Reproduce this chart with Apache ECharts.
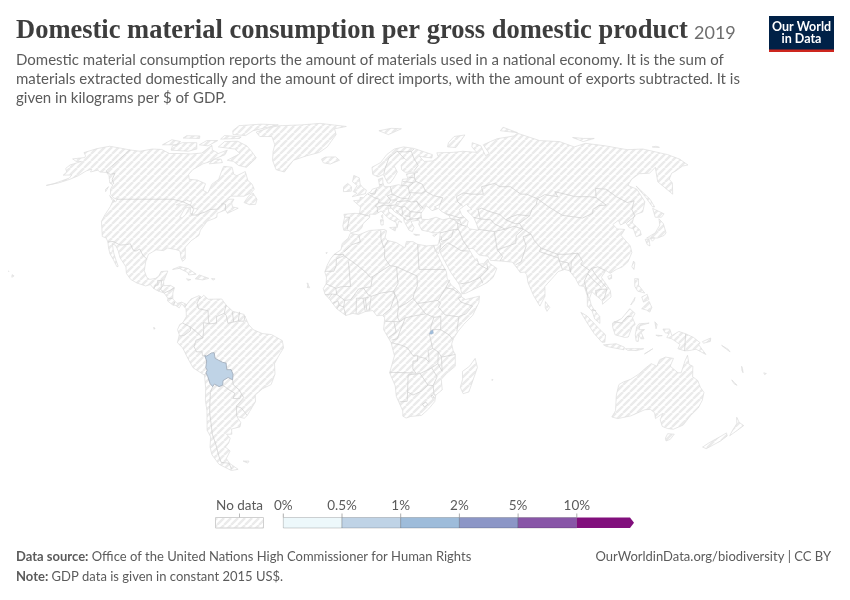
<!DOCTYPE html>
<html><head><meta charset="utf-8">
<script src="https://cdn.jsdelivr.net/npm/echarts@6/dist/echarts.min.js"></script>
<style>html,body{margin:0;padding:0;background:#fff}#c{width:850px;height:600px}</style>
</head><body><div id="c"></div>
<script>
// ---------- values ----------
const titleText = 'Domestic material consumption per gross domestic product';
const yearText = '2019';
const subtitleLines = [
 'Domestic material consumption reports the amount of materials used in a national economy. It is the sum of',
 'materials extracted domestically and the amount of direct imports, with the amount of exports subtracted. It is',
 'given in kilograms per $ of GDP.'];
const sourceText = 'Office of the United Nations High Commissioner for Human Rights';
const noteText = 'GDP data is given in constant 2015 US$.';
const urlText = 'OurWorldinData.org/biodiversity | CC BY';
const binEdges = [0,0.5,1,2,5,10];
const binLabels = ['0%','0.5%','1%','2%','5%','10%'];
const binColors = ['#edf8fb','#bfd3e6','#9ebcda','#8c96c6','#8856a7','#810f7c'];
const countryNames = ['Bolivia','Rwanda'];
const countryValues = [0.8,1.5];
const countryStrokeWidths = [0.8,0.3];

// ---------- base map: outlines as lon,lat ----------
const northAmerica=[-141,69.6,-148,70.4,-156.5,71.3,-162,70.2,-166.5,68.4,-163,67,-162,66.2,-168,65.6,-164,64.5,-161,64.5,-165,63,-165,61.5,-162,60,-162,58.7,-157.5,58.8,-157,57.5,-162,55.2,-165,54.5,-160,55.5,-156,57,-153.5,58.5,-152,60.5,-150,61.2,-149,60,-146,60.8,-144,60,-140,59.8,-137,58.5,-135,57,-133,55.5,-130.5,54.7,-130,53,-128,51,-125,49.5,-123,49,-122.8,48,-124.5,48.3,-124,46,-124.3,43,-124.2,40.4,-122.5,37.8,-120.6,34.6,-118.5,34,-117.1,32.5,-116,30.5,-114.5,28,-112.5,26,-110,23,-109.5,23.2,-111,25.5,-113,28.5,-114.7,31.7,-113,31.2,-111,29,-109.5,26.5,-106,23,-105.3,20.5,-103,18.2,-100,16.8,-96,15.7,-94,16.2,-92,14.5,-90,13.7,-87.5,13,-85.7,11,-85.8,10,-83.5,8.5,-82,8.2,-80.5,7.3,-79.5,8.9,-78,7.5,-77.3,8.6,-79.5,9.5,-81.5,9,-83.5,10.7,-83.7,13,-83.2,15,-85,15.9,-88,15.8,-88.3,17.5,-87.6,19.5,-87,21.4,-90,21.2,-90.7,19.5,-92,18.6,-94.5,18.2,-96,19,-97.5,21.5,-97.5,25,-97,27.8,-94,29.5,-90.5,29.2,-89,30.2,-85,29.6,-83,29,-82,26.5,-81,25.1,-80,26,-81,30.5,-79,33,-76,35,-76,37,-74,40.5,-71,41.5,-70,42,-70.5,43.5,-67,44.8,-66,44,-65.5,43.5,-61,45.5,-64,46,-65,47.5,-64.5,49,-67,49,-70,47,-66.5,50.2,-60,50.2,-57,51.5,-56,53,-58,55,-61,56.5,-64.5,60.2,-68,58.5,-70,59,-73,62,-78,62.4,-77.5,60,-76.8,57,-79,55,-79,51.5,-82,52.5,-82.5,55.2,-88,56.7,-92.5,57,-94.5,59,-94,61,-90.5,63.5,-87,64.5,-85,66,-81.5,67.5,-82,69.5,-86,68,-88,68.7,-91,69.5,-94,71.8,-96,68.2,-102,67.8,-108,68,-115,68,-122,69.8,-128,70,-134,69];
const lakeSuperior=[-92,46.8,-88,48.7,-85,47.8,-85,46.7,-88,46.8];
const lakeMichigan=[-87.8,42,-87,45.5,-85,46,-85.5,43,-86.5,41.7];
const lakeHuron=[-84.5,46,-80.5,45,-81.7,43.2,-83.5,43.5];
const southAmerica=[-77.3,8.6,-75.5,10.7,-72,12,-71.5,10.8,-70,12.1,-68,10.6,-62,10.7,-60,8.4,-57,6,-52,4.8,-50,1,-48,-1,-44,-2.5,-40,-2.9,-35.3,-5.2,-34.8,-8,-37,-11,-39,-14,-39,-18,-41,-22,-45,-23.6,-48.5,-26,-48.7,-28.5,-52,-32.3,-53.4,-33.8,-55,-34.9,-58.3,-34.2,-57,-36.5,-57.8,-38.2,-62,-39,-62.5,-41,-65,-41,-63.8,-42.5,-65.3,-44.5,-67.5,-46,-65.8,-47.5,-69,-50.5,-68.4,-52.4,-65.2,-54.8,-69,-55.3,-74,-52.8,-75.5,-49,-75,-46,-73,-42,-73.7,-39.5,-71.5,-32,-71.3,-28,-70.4,-23.5,-70.3,-18.4,-75,-15.6,-77,-12,-79,-8,-81.2,-6,-80.3,-3,-81,-1,-80,1,-78.8,1.5,-77.2,4,-77.5,7,-78,7.5];
const eurasia=[-9,37,-9.5,38.8,-8.8,42,-9.2,43.1,-4,43.5,-1.7,43.4,-1.2,46,-4.7,48.4,-1.5,48.7,-1.5,49.7,0.2,49.6,2,51,4,52,4.8,53,7,53.5,8.7,54,8.2,57,10.5,57.6,10.5,55.5,11,54,14,54,18.5,54.8,20,54.5,21,57,24,57.2,23.5,59.2,28,59.6,30,60,23,59.9,21.3,61,21.5,63,25,65,24,65.8,22,65.5,17.5,62.5,18.8,60,16.5,57.5,14.3,55.5,13,55.4,11,59,8,58,5.3,59,5,62,10,64,14,67.5,19,70,25,71,31,70.3,41,67.5,40,66,35,66.5,33,66.8,35,64.5,40,64.7,44,66.5,44,68.3,54,68.5,60,69,68,68.5,67,71,69,73,73,71.5,72,67,75,68,75,72,81,73.5,87,74.9,100,76.3,104.5,77.7,113,74,125,73.5,130,71,140,72.7,150,71.5,160,69.7,170,70,180,67.5,183,65.5,183,63,179,62.5,172,60.5,168,59.5,163,57,162.5,55.5,157,51,155.5,56,163,62,156,59.5,150,59.3,143,57,138,54.5,141,53,140,48,135.5,44,132,43.2,130,42.3,127.5,39.8,129.5,37,129,35.2,126.3,34.5,126.7,37.5,125,38,124.5,40,121.5,39,121.5,40.8,118,39.2,119,37.5,122.5,37.3,119.5,35,122,31,121.8,28.5,119,25,116,23,113,22,110,20.5,108.3,21.6,105.8,19,109,14,109,11.5,105,8.7,105,10,102.5,12,100.8,13.5,99.5,11,100,8.5,101,6.8,103.5,4,103.5,1.4,101.3,3,100.3,6,98.3,8,98.6,12,97.7,15.5,95.5,15.8,94.3,18.5,92,21.5,90,22,87,21.2,85,19.5,80.3,15.5,80,11.8,77.5,8,75,12,73,17,72.8,20,72,21,70,20.8,69,22.3,67,24.8,62,25.2,57.2,25.5,56.5,27,52.5,27.5,50.2,30,48,30,50,26.5,51.5,25,51.2,26.2,52,24,54,24.2,56.2,26,56.5,24.5,59.8,22.4,57.8,19,55,17,52,15.7,45,12.8,43.5,12.7,42.7,16,39,21,35.2,28,34.9,29.5,34.2,28,32.6,29.9,32.3,31.2,34.2,31.3,35,32.8,36,36,32.5,36,30.5,36.5,27.5,37,26.3,39.3,27,40.5,26,40.8,23.5,40.5,22.8,40.3,24,38,23,36.5,21.5,37,19.5,40.5,19.5,42,15.5,44,13.7,45.6,12.3,45.3,12.5,44,16,41.9,18.5,40,16.9,40.4,16,38,15.7,40,12.5,41.4,10.5,43,8.8,44.4,6,43.1,3.2,43.2,3.2,41.9,0,39.5,-0.5,38,-2,36.8,-5.5,36,-6.5,36.9];
const blackSea=[28,41.2,31.2,41.1,35,42,38,41,41.6,41.6,41.5,42.5,38,44.3,37,45.3,38,47,35,46,36.5,45.3,33.5,44.5,32.5,45.5,31,46.5,29.6,45,28,43.5];
const caspianSea=[47,45,51,47,53,45,50.5,44.5,53,42,53.8,39,54,37,50,37.5,49,38.5,50,40.5,47.5,43];
const africa=[-5.9,35.8,-2,35.2,3,36.9,10,37.3,11,36.8,10.2,34.3,11,33.1,15.2,32.3,19,30.3,20,32.7,23,32.6,25,31.6,29,31,32.3,31.2,32.6,29.9,33.6,27.8,35.5,24,37.2,21,37.3,18.7,39,16,41,14.6,43.2,12.5,43.3,11.5,45,10.5,51.2,11.8,50.8,9.3,48,4.5,44,1,41.5,-1.7,39.5,-4.5,38.8,-6.5,39.5,-9,40.5,-10.5,40.7,-15,37,-17.8,34.8,-20,35.5,-24,32.8,-26,32.5,-28.5,30,-31.3,27,-33.8,22,-34.2,20,-34.8,18.4,-34.1,18.2,-32,15,-26.5,14.4,-22.5,11.8,-17.5,13.8,-11,12.3,-6,9,-1,9.5,3.5,8.5,4.5,6,4.3,4.3,6.3,1,5.9,-2,4.8,-4.5,5.2,-7.5,4.4,-11.4,6.9,-13.3,9,-15,11,-16.7,12.4,-17.5,14.7,-16.3,16.5,-16.2,19,-17,21,-16,23.7,-14.5,26.2,-13,27.8,-10,29.5,-9.5,32,-6.8,34];
const australia=[114.2,-22,114,-26,115.7,-32,115,-34.4,118,-35,123.5,-34,129,-31.6,131.5,-31.5,134,-32.8,135.5,-35,137.8,-33,138,-35.5,140.5,-38,143.5,-38.8,146.4,-39.1,150,-37.5,151,-34,153,-31,153.5,-28,153,-25,150.8,-23,149,-20.5,146.3,-19,145.5,-15,143.7,-14.3,142.5,-10.8,141.7,-13,140.9,-17.5,139.5,-17.5,135.5,-15,136.5,-12,133,-11.5,130.5,-12.5,129.6,-15,127,-14,125,-15.5,122.2,-18,119,-20,116,-21];
const islands=[
[-59,47.7,-56,46.9,-53,47,-53,49,-56,51.5,-57.5,50.5],[-62,66,-65,62,-70,62.8,-74,64.5,-78,65,-73,68,-78,70,-89,71,-88,73.5,-80,73.7,-72,71.5,-67,69],
[-105,69,-116,69.5,-118,71.5,-114,73,-105,73,-101,70],[-116,72,-125,72,-123,74.4,-116,73.5],[-62,82.5,-75,83,-90,82,-90,79,-87,77,-78,76.5,-76,79,-68,81],
[-80,75,-92,74.7,-92,76.5,-80,75.8],[-106,75,-117,75.2,-117,76.4,-108,76.3],[-96,71.5,-102,72,-100,74,-93,74],[-80,64,-87,63.5,-86,65.5,-82,65.5],[-128,50.5,-123.5,48.4,-125,48.6],[-132.5,53,-132,54,-131.5,52],
[-73,78.3,-66,81,-60,82,-45,82.5,-32,83.5,-22,82.5,-12,81.5,-20,80,-18,77,-20,74,-22,71,-26,68.5,-33,67,-40,65,-43,60,-48,61,-52,65,-54,69,-55,72,-60,76,-68,76],
[-24,65.5,-22,66.4,-16,66.5,-13.5,65,-18.5,63.4,-22.5,63.9],[-85,22,-82,23.1,-78,22.3,-74.2,20.2,-77.5,19.9,-78,20.8,-82,22.4],[-74.4,18.4,-72.8,19.9,-68.4,18.6,-71,18],[-78.3,18.4,-76.3,18.1,-77.5,17.8],[-67.2,18.5,-65.6,18.4,-66.5,17.9],
[-61,-51.5,-58,-51.5,-59,-52.3],[49.3,-12,50.5,-15.5,47.5,-24.8,45,-25.5,43.5,-23,44.3,-20,44,-17,47,-15],
[-5.5,50,1.3,51.2,1.7,52.7,0,53.5,-1.5,55,-2,57.6,-5,58.6,-5.5,56,-3,54.5,-5,52,-3,51.4],[-10,52,-6,52.2,-6,54,-8,55.3,-10,54],[11,79,20,80.3,27,80,17,77],[52,71,57,70.7,68,76.8,60,76,54,73],[95,79,105,78,100,81],
[12.5,38,15.6,38.2,15,36.7],[8.3,41,9.7,41,9.5,39,8.5,39],[8.7,42.5,9.5,43,9.4,41.5],[23.5,35.5,26.3,35.2,24.5,35],[32.3,35,34.5,35.6,33,34.6],
[137,75.5,143,75,150,75,140,73.5],[178,71,181,71.3,182,70.8,178.5,70.8],[142,54.3,143.5,49,143,46,142,46,142,50],[140,42,141.5,45.4,145.3,43.3,143,42],[130.9,34,136,36,140,39,141.3,41.4,142,39.5,141,36,139.5,35,136,34,132.5,34],[130,33.5,131.8,33.5,131,31,130,31.5],[132.5,33.8,134.5,34.2,134,33.4,133,32.8],
[121.5,25.2,120.2,23,120.9,22,121.9,24.5],[108.7,19.3,110.5,20,110.3,18.6,109,18.2],[80,9.7,81.8,7.5,80.5,6,79.8,7.5],
[120.5,18.5,122.2,18.4,121.7,16,124,13,121,13.7,120,15.5],[122,7,125.5,9.8,126.5,7.5,125.5,5.7,124,6.5],[122.5,11.5,125,12.5,125.5,10.5,123,9.5],[117.3,8.4,119.5,11.3,119,10],
[95.3,5.6,98,4.2,103.5,-1,106,-3,105.8,-5.8,104.5,-5.8,101,-2.5,98,1.5],[105.3,-6.8,108.5,-6.6,110.8,-6.4,114.5,-7.7,114.4,-8.7,110,-8,106.5,-7.4],[109,1.5,111.3,2.5,113,3.2,116.8,7,119,5.2,117.8,3.5,118.9,1,117.5,0,116,-3.8,114.5,-4,110.2,-3,109,0],
[119.5,0,120.5,1.2,125,1.5,121,0.5,120.5,-1,123,-1,121.5,-2,122.8,-4.5,121.5,-4.5,120.5,-3,120.4,-5.5,119.5,-5.4,119,-3],[115,-8.3,119,-8.3,123,-8.3,120,-9,116,-8.9],[123.5,-10.3,127,-8.3,125,-9.5],[127.5,2,128.5,1,128,-0.7],[128,-3.1,130.8,-3.3,129,-3.5],
[131,-0.8,134,-0.8,135,-3.3,138,-1.7,141,-2.6,144.5,-4,147.5,-6,147,-6.8,150.5,-10.5,146,-8.5,143,-9,141,-9.1,138,-8.3,138.8,-6.7,135,-4.5,132.8,-4,133.8,-2.5,132,-2.2],[148.5,-5.6,152,-4.2,152,-5.5,149,-6.2],[157,-7,160,-8.5,161,-9.5,158.5,-8],[167,-15,167.5,-16.5,168.3,-17.5,167.6,-15.8],[164,-20.2,167,-22.3,165.5,-21.7],[177.5,-17.5,178.7,-17.8,178,-18.2],
[145,-40.8,148.3,-41,148,-43,146.5,-43.6,145.3,-42.5],[172.8,-34.5,175.5,-36.5,178.5,-37.7,177,-39.5,175.3,-41.6,174.7,-39.5,174.7,-37],[172.7,-40.5,174.2,-41.7,172.8,-43.7,171,-45,169,-46.6,166.5,-46,168,-44.3,171,-42],
[-156,20,-155,19.5,-155.9,19],[-158.2,21.6,-157.7,21.3,-158.1,21.3],[-16.8,28.4,-16.2,28.5,-16.5,28],[-24.8,16.8,-24.2,16.6,-24.6,15.1,-23.5,15],[57.3,-20,57.8,-20.1,57.5,-20.5],[-91.5,-0.2,-90.8,-0.4,-91.2,-0.9]];
const bolivia=[-69.5,-10.95,-68.6,-11.1,-66.5,-9.9,-65.3,-9.8,-65,-12,-61.8,-13.5,-60.3,-13.8,-60.2,-16.3,-58.3,-16.3,-57.6,-18,-58,-20.2,-59.9,-19.3,-62.3,-20.5,-62.6,-22.2,-64.3,-22.8,-66.3,-21.8,-67.2,-22.8,-68.2,-21.6,-68.9,-19,-69.5,-17.5,-68.9,-16.5,-69.4,-15.5,-68.8,-13];
const rwanda=[29,-2.7,29.6,-1.4,30.5,-1.1,30.8,-2.4,29.9,-2.8];
const borders=[
[-123,49,-95,49,-94.8,49.3,-89.5,48,-84.5,46.5,-82.5,45,-82.5,42.8,-79,42.9,-79,43.3,-76.5,44,-74.7,45,-71,45.1,-70,46.5,-69,47.3,-67.8,47,-67,44.8],[-141,69.6,-141,60.3,-137,59,-135,59.5,-133.5,57,-130.3,55],
[-117.1,32.5,-114.7,32.7,-111,31.3,-108.2,31.5,-106.5,31.8,-104.5,29.5,-103,29,-101.5,29.8,-99.5,27.5,-97.2,25.9],[-92.2,14.6,-91.7,16,-90.5,16,-91,17.8,-89.2,17.8,-88.3,18],[-89.2,17.8,-89.2,15.9],[-88.5,15.8,-89.3,14.4,-90,13.8],[-89.3,14.4,-87.8,13.4],[-87.5,13,-85,14,-83.2,15],[-85.7,11,-83.7,10.9],[-83,8.3,-82.6,9.5],
[-71.3,11.8,-72.8,9.1,-72,7,-67.8,6.2,-67.5,2,-66.9,1.2],[-66.9,1.2,-69.8,1.7,-69.5,-0.5,-70,-4.2],[-70,-4.2,-72,-2.5,-75.2,-0.1],[-75.2,-0.1,-78.8,1.5],[-75.2,-0.1,-75.5,-1.5,-78.3,-3.3,-80.3,-3.4],[-70,-4.2,-73,-5,-74,-7.5,-73,-9.5,-70.6,-9.5,-70.5,-11,-69.5,-10.95],[-69.5,-17.5,-70.4,-18.4],
[-66.9,1.2,-64,1.5,-64,4,-60.7,5.2],[-60.7,5.2,-60,8.4],[-60.7,5.2,-59.8,4.4,-59,1.4,-56.5,1.9],[-56.5,1.9,-57.2,5.9],[-56.5,1.9,-54.5,2.3],[-54.5,2.3,-54,5.8],[-54.5,2.3,-52,2.2,-51.6,4.2],
[-67.2,-22.8,-68.5,-25,-69.7,-30,-70.5,-33,-71,-37,-71.8,-41,-71.7,-45,-72.3,-49.5,-72.5,-52,-68.4,-52.4],[-68.6,-52.7,-68.6,-54.9],[-62.6,-22.2,-60,-24,-57.6,-25.3,-58.6,-27.3,-55.7,-27.4,-54.6,-25.6],[-58,-20.2,-57.9,-22.1,-55.5,-24,-54.6,-25.6],[-54.6,-25.6,-53.8,-27,-57.6,-30.2],[-57.6,-30.2,-58.3,-34],[-57.6,-30.2,-55.5,-31,-53.4,-33.8],
[-1.9,35,-1.2,32.5,-5,31.5,-8.7,28.7],[-13,27.7,-8.7,27.7],[-8.7,27.7,-8.7,27.2,-12,26,-12,23.4,-13,21.3,-17,21.3],[-8.7,27.3,-4.8,25],[-6.5,24.9,-5.5,15.5,-9.5,15.4,-12,14.8],[-12,14.8,-16.3,16.5],[-4.8,25,1.2,21,3.2,19,4.2,19.2],[4.2,19.2,3.5,15.4,0.2,14.9],[4.2,19.2,12,23.5],[12,23.5,9.7,26.5,9.9,30],[8.3,36.9,8.3,33.5,9.5,30.2],[9.5,30.2,11.5,33.1],[12,23.5,15,23],[15,23,24,19.5],[25,31.6,25,22],[25,22,37,22],[24,19.5,24,15.7,22.5,12.8,22,11],[15,23,15.5,16.5,13.5,13.7],[13.5,13.7,8,13,3.6,11.7],[3.6,11.7,2.4,12.2,0.2,14.9],[0.2,14.9,-2,14.5,-5.4,10.4],[-2.9,11,0,11],[0,11,2.4,11.3],[-5.4,10.4,-8,10.2,-11.5,12.4,-12,14.8],[-11.5,12.4,-13.7,12.6],[-13.7,12.6,-16.7,12.4],[-13.7,12.6,-15,11],[-13.3,9,-11,10,-10.5,8.4],[-11.4,6.9,-10.5,8.4,-8.5,7.6,-7.5,4.4],[-8.5,7.6,-8,10.2],[-2.9,11,-3,5],[0,11,1,5.9],[1,11,1.7,6.2],[3.6,11.7,2.7,6.4],[13.5,13.7,14,12,12,7,8.7,4.6],[13.5,13.7,15,10.5,15.5,7.5],[15.5,7.5,15,4],[9.8,2.2,16,2],[15.5,7.5,19,9,22,11],[22,11,27.4,5],[15,4,16,2,18.5,3.5,22,4.2,27.4,5],[24,9,28,9.5,33,10.2],[33,10,34,9,33,7.6,35.9,4.6],[31,3.7,34,4],[35.9,4.6,41.9,3.9],[33,10.2,36,14.3,36.5,15],[36.5,15,38.5,18],[36.5,15,39.5,14.5,42.5,12.7],[41.8,11,43.2,11.5],[41.8,11,43,9.5,48,8,45,5,42,4],[41.9,3.9,41,-1.7],[34,4,34,1,33.9,0,33.9,-1],[33.9,-1,37.6,-3,39.2,-4.7],[30.5,-1,33.9,-1],[31,3.7,29.6,0,29.6,-1.4],[27.4,5,31,3.7],[11.1,-4,14.5,-2,13.5,2],[18.5,3.5,16,-2,15,-4.5,12.5,-5],[12.3,-6,17,-7,19.5,-8,22,-11,24,-11],[24,-11,25,-11.5,27.5,-12,29,-13.4,29,-12,28.5,-9,30.5,-8.2,29.5,-4.5,29,-2.7],[30.5,-8.2,33,-9.5],[33,-9.5,34.5,-11.5,35,-17,33,-14,33,-9.5],[34.5,-11.5,40.5,-10.5],[33,-14,30.3,-15.6,32.9,-19,31.3,-22.4,32,-26,32.8,-26],[29,-22.2,31.3,-22.4],[30.3,-15.6,25.3,-17.8],[24,-11,24,-13,22,-13,22,-16,23.4,-17.6],[11.8,-17.3,23.4,-17.6],[25.3,-17.8,20,-18.3,20,-22,20,-24.8,22.5,-26,26,-24.6,29,-22.2],[25.3,-17.8,29,-22.2],[20,-24.8,20,-28.4,16.5,-28.6],[27,-29.5,28.5,-28.7,29.4,-29.6,28,-30.6,27,-29.5],[31,-26,32,-26.8,31.5,-27.3,30.8,-26.5,31,-26],
[-8.8,42,-6.5,42,-7,39.5,-7.4,37.2],[-1.7,43.4,3.2,42.4],[2.5,51,6,49.5],[6,49.5,8.2,49,7.6,47.6],[7.6,47.6,6,46.3,7,45.9,7,44,7.5,43.8],[3.4,51.4,6,51],[6,51,7,53.3],[8.7,54.9,9.8,54.8],[14.2,54,14.8,51],[14.8,51,12.2,50.3,13.8,48.7],[13.8,48.7,13,47.5,9.6,47.5],[9.6,47.5,7.6,47.6],[7,45.9,10.4,46.7],[10.4,46.7,13.7,46.5],[13.8,48.7,17,48.7],[14.8,51,18.8,49.5,22.6,49.1],[17,48.1,22.2,48.4],[17,48.1,16,46.8],[13.7,46.5,16,46.8],[13.7,46.5,13.6,45.5],[16.5,46.5,19,45.9],[19,45.9,20.5,46.2,22.8,44.3],[22.8,44.2,28.5,43.7],[22.8,44.2,22.5,42.3],[22.5,41.2,26.3,41.5],[26.3,41.5,28,41.9],[26.3,41.5,26,40.8],[19.4,41.8,20.8,40.8,22.5,41.2,22.5,42.3,20,42.6],[19,45.9,19,44.9,19.3,43,18.5,42.5,16,44.8],[22.2,48.4,24,47.9,26.6,48.3,29.5,45.4],[26.6,48.3,28.2,45.5],[22.6,49.1,24,50.8,23.6,52,23.5,53.9],[23.5,53.9,22.8,54.4,20,54.4],[24,51.6,30,51.4,32,52.2],[32,52.2,31,55,28,56.1],[23.5,53.9,26.5,55.6,28,56.1],[21,56.1,26.5,55.6],[24.3,57.9,27.5,57.6],[28,59.5,27.5,57.6,28,56.1],[32,52.2,35.5,50.4,40,49.6,38.2,47.1],[28,60.5,31,62.8,29.5,66,29,69],[29,69,25,68.7,20.5,69],[20.5,69,24,65.8],[20.5,69,15,66,12,61,11.3,59],[29,69,31,70],
[49,46.3,47,48,47,50,51,51.5,55,51,61,51,61.5,54,69,55.3,71,54,76.5,54,80,51,83,51,87.3,49.2],[87.3,49.2,92,50.8,98,50,98,52,102.5,51,107,50,114,50,117,49.6],[117,49.6,120,53.3,125,53,127.5,50,131,47.7,135,48.4,131,45,130.6,42.4],[87.3,49.2,91,46,96,42.7,105,41.7,111,43.5,112,45,116,46.5,119.8,46.7,117,49.6],[87.3,49.2,85.5,47,82.5,45.2,80,42.5],[80,42.5,74.5,43,70.5,42,68,41,66,43,61,44.3,58,45.5,56,45,56,41.3,53,42],[56,41.3,61,41,62,39.5,66.5,37.4],[54,37.3,61.2,36.5],[61.2,36.5,66.5,37.4],[66.5,37.4,71,38.5,75,37.4],[68,41,72,39.5,74,39.6],[80,42.5,74,39.6,75,37.4,78,35.5,78.8,33,81,30.2],[81,30.2,88,27.8,92,27.8,97.3,28.2,98.5,25,97.5,24,101,21.7,102,22.4,105,23,108,21.6],[81,30.2,80,28.8,88,26.4,88,27.8],[88,26.4,89,22],[88,25.3,92,24.5,92.5,21],[92.5,21,93.5,25,97.3,28.2],[68.2,23.7,71,25,74.5,31,74,34.5,78,35.5],[75,37.4,71,35,70,32,66.5,31,61,29.5],[61,29.5,63,27,61.5,25.2],[61,29.5,61.2,36.5],[48,30,46,33,45,36.5,44.5,37.5],[44.5,37.5,44.8,39.7],[44.8,39.7,43.5,41,41.6,41.6],[40,43.4,46,41.8,48.5,41.8],[43.5,41,46,41,46.5,39],[44.8,39.7,46.5,39,48.5,38.5],[36,36,42.3,37.2,44.5,37.3],[42.3,37.2,41,34.5,38.8,33.4],[39,32.2,44.5,29.2,48,29],[38.8,33.4,35.8,32.7],[39,32.2,37,31,35,29.4],[35,33,35.5,31.5,34.9,29.5],[36,34.6,36.3,33.5,35,33.1],[43,16.5,47,17,52,19,53,16.7],[52,19,55.7,22,55.5,24.2],[51.5,24.2,55.7,22],[125,39.9,130.6,42.4],[126.7,37.8,128.4,38.6],[100,20.4,98,17.5,99,11],[101,21.7,100,20.4],[100,20.4,102,18,105,15.3],[102,22.4,104,19,107.5,15],[102.7,12,102.5,14,105.5,14.4,107.5,14.5,106,11,105,10.5],[100.2,6.6,102,6.2],[109.6,2,113,1.5,115.5,4,117.7,4.2],[141,-2.6,141,-9.1]];

// ---------- Robinson projection ----------
const robLat=[0,5,10,15,20,25,30,35,40,45,50,55,60,65,70,75,80,85,90];
const robX=[1,.9986,.9954,.99,.9822,.973,.96,.9427,.9216,.8962,.8679,.835,.7986,.7597,.7186,.6732,.6213,.5722,.5322];
const robY=[0,.062,.124,.186,.248,.31,.372,.434,.4958,.5571,.6176,.6769,.7346,.7903,.8435,.8936,.9394,.9761,1];
const mapCx=363, mapCy=327, pxPerDeg=2.29, ySpan=211;
function robinson(p){
  const a=Math.min(Math.abs(p[1]),89.999), i=Math.floor(a/5), t=a/5-i;
  const X=robX[i]+(robX[i+1]-robX[i])*t, Y=robY[i]+(robY[i+1]-robY[i])*t;
  return [mapCx+p[0]*pxPerDeg*X, mapCy-(p[1]<0?-1:1)*Y*ySpan];
}
function unrobinson(q){ return [(q[0]-mapCx)/pxPerDeg,(mapCy-q[1])/ySpan*90]; }

function pairs(f){const r=[];for(let i=0;i<f.length;i+=2)r.push([f[i],f[i+1]]);return r;}
function area(r){let s=0;for(let i=0;i<r.length;i++){const a=r[i],b=r[(i+1)%r.length];s+=a[0]*b[1]-b[0]*a[1];}return s;}
function ring(f,sign){const r=pairs(f);if(area(r)*sign<0)r.reverse();r.push(r[0]);return r;}
const landPolys=[
 [ring(northAmerica,1),ring(lakeSuperior,-1),ring(lakeMichigan,-1),ring(lakeHuron,-1)],
 [ring(southAmerica,1)],
 [ring(eurasia,1),ring(blackSea,-1),ring(caspianSea,-1)],
 [ring(africa,1)],[ring(australia,1)]
].concat(islands.map(f=>[ring(f,1)]));
const feature=(name,geometry)=>({type:'Feature',properties:{name},geometry});
const worldGeo={type:'FeatureCollection',features:[
 feature('Land',{type:'MultiPolygon',coordinates:landPolys}),
 feature('Borders',{type:'MultiLineString',coordinates:borders.map(pairs)}),
 feature('Bolivia',{type:'Polygon',coordinates:[ring(bolivia,1)]}),
 feature('Rwanda',{type:'Polygon',coordinates:[ring(rwanda,1)]})
]};
echarts.registerMap('world',worldGeo);

let x0=1e9,x1=-1e9,y0=1e9,y1=-1e9;
landPolys.forEach(pl=>pl.forEach(r=>r.forEach(pt=>{const q=robinson(pt);x0=Math.min(x0,q[0]);x1=Math.max(x1,q[0]);y0=Math.min(y0,q[1]);y1=Math.max(y1,q[1]);})));

function hatch(size,lw,color){
  const c=document.createElement('canvas');c.width=c.height=size;
  const g=c.getContext('2d');g.strokeStyle=color;g.lineWidth=lw;
  [-size,0,size].forEach(d=>{g.beginPath();g.moveTo(d,size);g.lineTo(d+size,0);g.stroke();});
  return c;
}
const noData={image:hatch(7,2.4,'#ebebeb'),repeat:'repeat'};

const FONT='Lato, sans-serif';
const G=[];
const txt=(x,y,text,size,fill,extra)=>G.push({type:'text',silent:true,z:10,style:Object.assign({x,y,text,fontFamily:FONT,fontSize:size,fill,textVerticalAlign:'middle',verticalAlign:'middle'},extra||{})});
txt(16,31,titleText,26.5,'#3d3d3d',{fontFamily:'"Liberation Serif",serif',fontWeight:700});
txt(694,33,yearText,18,'#6e6e6e',{});
subtitleLines.forEach((l,i)=>txt(16,60.5+i*18.6,l,15,'#5b5b5b'));
txt(16,556.5,'{b|Data source:} '+sourceText,13,'#5b5b5b',{rich:{b:{fontFamily:FONT,fontSize:13,fontWeight:700,fill:'#5b5b5b'}}});
txt(16,577,'{b|Note:} '+noteText,13,'#5b5b5b',{rich:{b:{fontFamily:FONT,fontSize:13,fontWeight:700,fill:'#5b5b5b'}}});
txt(831,556.5,urlText,13,'#5b5b5b',{align:'right'});
G.push({type:'rect',silent:true,shape:{x:769,y:16,width:65,height:36},style:{fill:'#002147'}});
G.push({type:'rect',silent:true,shape:{x:769,y:49.5,width:65,height:2.5},style:{fill:'#ce261e'}});
txt(801.5,27,'Our World',12.5,'#fff',{align:'center',fontWeight:700});
txt(801.5,39,'in Data',12.5,'#fff',{align:'center',fontWeight:700});
const legX0=283.3, legStep=58.7, legTop=517.5, legH=10.5, arrowTip=634, arrowBase=630;
txt(239.5,506,'No data',13.5,'#5b5b5b',{align:'center'});
G.push({type:'rect',silent:true,shape:{x:215.5,y:legTop,width:48,height:legH},style:{fill:noData,stroke:'#d0d0d0',lineWidth:1}});
G.push({type:'line',silent:true,shape:{x1:239.5,y1:513.5,x2:239.5,y2:legTop},style:{stroke:'#bbb',lineWidth:1}});
binColors.forEach((col,i)=>{
  const a=legX0+i*legStep, b=a+legStep;
  if(i<binColors.length-1){
    G.push({type:'rect',silent:true,shape:{x:a,y:legTop,width:legStep,height:legH},style:{fill:col,stroke:'rgba(0,0,0,0.22)',lineWidth:0.8}});
  }else{
    G.push({type:'polygon',silent:true,shape:{points:[[a,legTop],[arrowBase,legTop],[arrowTip,legTop+legH/2],[arrowBase,legTop+legH],[a,legTop+legH]]},style:{fill:col}});
  }
  G.push({type:'line',silent:true,z:5,shape:{x1:a,y1:513.5,x2:a,y2:legTop},style:{stroke:'#999',lineWidth:0.8}});
  txt(a,506,binLabels[i],13.5,'#5b5b5b',{align:'center'});
});

const chart=echarts.init(document.getElementById('c'),null,{renderer:'canvas'});
chart.setOption({
  animation:false,
  backgroundColor:'#fff',
  visualMap:{type:'piecewise',show:false,seriesIndex:0,
    pieces:binColors.map((c,i)=>i<binEdges.length-1?{gte:binEdges[i],lt:binEdges[i+1],color:c}:{gte:binEdges[i],color:c})},
  series:[{
    type:'map',map:'world',silent:true,roam:false,selectedMode:false,
    projection:{project:robinson,unproject:unrobinson},
    left:x0,top:y0,width:x1-x0,height:y1-y0,
    label:{show:false},emphasis:{disabled:true},
    itemStyle:{areaColor:noData,borderColor:'#dcdcdc',borderWidth:0.7},
    data:[{name:'Borders',itemStyle:{borderColor:'#cfcfcf',borderWidth:0.7}}].concat(countryNames.map((name,i)=>({name,value:countryValues[i],itemStyle:{borderColor:'#9ea8b6',borderWidth:countryStrokeWidths[i]}})))
  }],
  graphic:{elements:G}
});
</script></body></html>
